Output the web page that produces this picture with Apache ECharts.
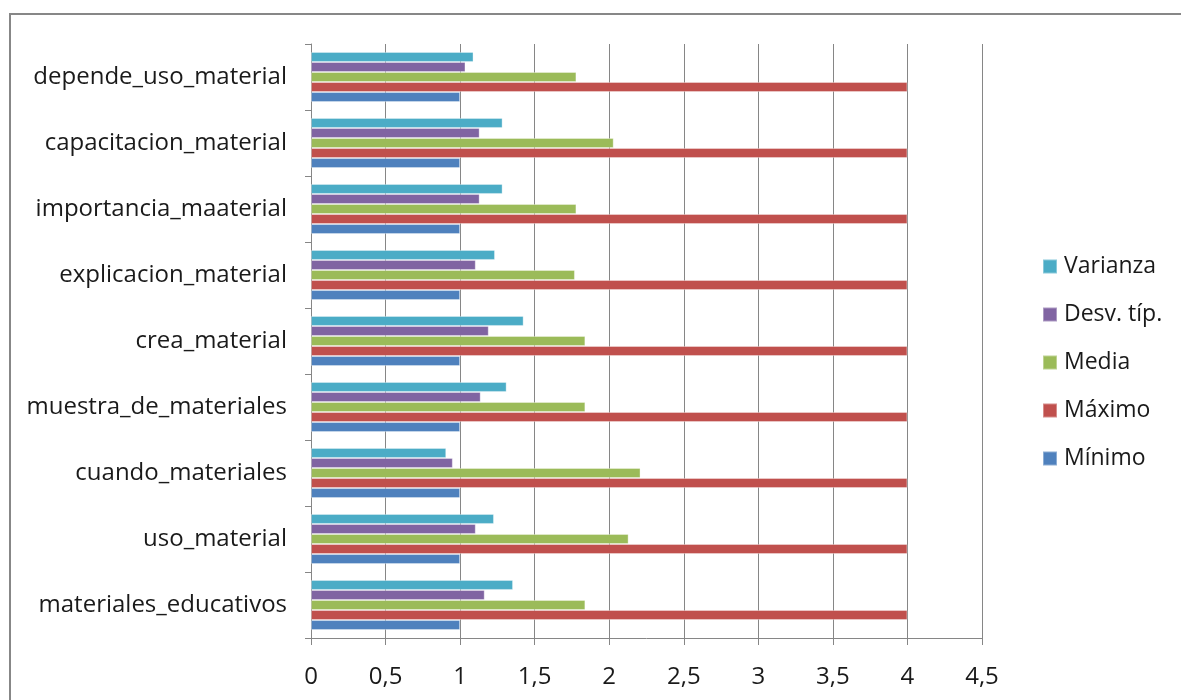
<!DOCTYPE html>
<html>
<head>
<meta charset="utf-8">
<script src="https://cdn.jsdelivr.net/npm/echarts@6/dist/echarts.min.js"></script>
<style>
  html, body { margin: 0; padding: 0; background: #fff; }
  #chart { width: 1181px; height: 700px; }
</style>
</head>
<body>
<div id="chart"></div>
<script>
// Categories, bottom to top on the y axis
const categories = [
  'materiales_educativos',
  'uso_material',
  'cuando_materiales',
  'muestra_de_materiales',
  'crea_material',
  'explicacion_material',
  'importancia_maaterial',
  'capacitacion_material',
  'depende_uso_material'
];

const minimo   = [1, 1, 1, 1, 1, 1, 1, 1, 1];
const maximo   = [4, 4, 4, 4, 4, 4, 4, 4, 4];
const media    = [1.84, 2.13, 2.21, 1.84, 1.84, 1.77, 1.78, 2.03, 1.78];
const desvTip  = [1.165, 1.105, 0.951, 1.138, 1.192, 1.105, 1.131, 1.131, 1.036];
const varianza = [1.355, 1.227, 0.907, 1.312, 1.426, 1.234, 1.285, 1.285, 1.09];

const xTicks = { min: 0, max: 4.5, interval: 0.5 };

// Series listed top-to-bottom within each category group
const seriesDefs = [
  { name: 'Varianza',   data: varianza, color: '#4BACC6' },
  { name: 'Desv. típ.', data: desvTip,  color: '#8064A2' },
  { name: 'Media',      data: media,    color: '#9BBB59' },
  { name: 'Máximo',     data: maximo,   color: '#C0504D' },
  { name: 'Mínimo',     data: minimo,   color: '#4F81BD' }
];

const font = '"Open Sans", Lato, sans-serif';
const chart = echarts.init(document.getElementById('chart'), null, { renderer: 'canvas' });

chart.setOption({
  animation: false,
  backgroundColor: '#fff',
  graphic: [{
    type: 'rect',
    shape: { x: 10, y: 14, width: 1200, height: 720 },
    style: { fill: 'none', stroke: '#878787', lineWidth: 2 },
    silent: true
  }],
  grid: { left: 311, right: 199, top: 44, bottom: 62, containLabel: false },
  legend: {
    orient: 'vertical',
    left: 1037,
    top: 250,
    itemWidth: 14,
    itemHeight: 14,
    itemGap: 25,
    icon: 'rect',
    data: ['Varianza', 'Desv. típ.', 'Media', 'Máximo', 'Mínimo'],
    textStyle: { fontFamily: font, fontSize: 23, color: '#1a1a1a', padding: [0, 0, 0, 2] }
  },
  xAxis: {
    type: 'value',
    min: xTicks.min,
    max: xTicks.max,
    interval: xTicks.interval,
    axisLine: { show: true, lineStyle: { color: '#868686', width: 1 } },
    axisTick: { show: true, length: 7, lineStyle: { color: '#868686' } },
    axisLabel: {
      fontFamily: font, fontSize: 24, color: '#1a1a1a', margin: 27,
      formatter: v => String(v).replace('.', ',')
    },
    splitLine: { show: true, lineStyle: { color: '#868686', width: 1 } }
  },
  yAxis: {
    type: 'category',
    data: categories,
    axisLine: { show: true, lineStyle: { color: '#868686', width: 1 } },
    axisTick: { show: true, length: 6, lineStyle: { color: '#868686' } },
    axisLabel: { fontFamily: font, fontSize: 24, color: '#1a1a1a', margin: 24 }
  },
  series: seriesDefs.map(s => ({
    name: s.name,
    type: 'bar',
    data: s.data,
    barGap: '0%',
    barCategoryGap: '24%',
    itemStyle: { color: s.color, borderColor: 'rgba(255,255,255,0.35)', borderWidth: 1 }
  }))
});
</script>
</body>
</html>
